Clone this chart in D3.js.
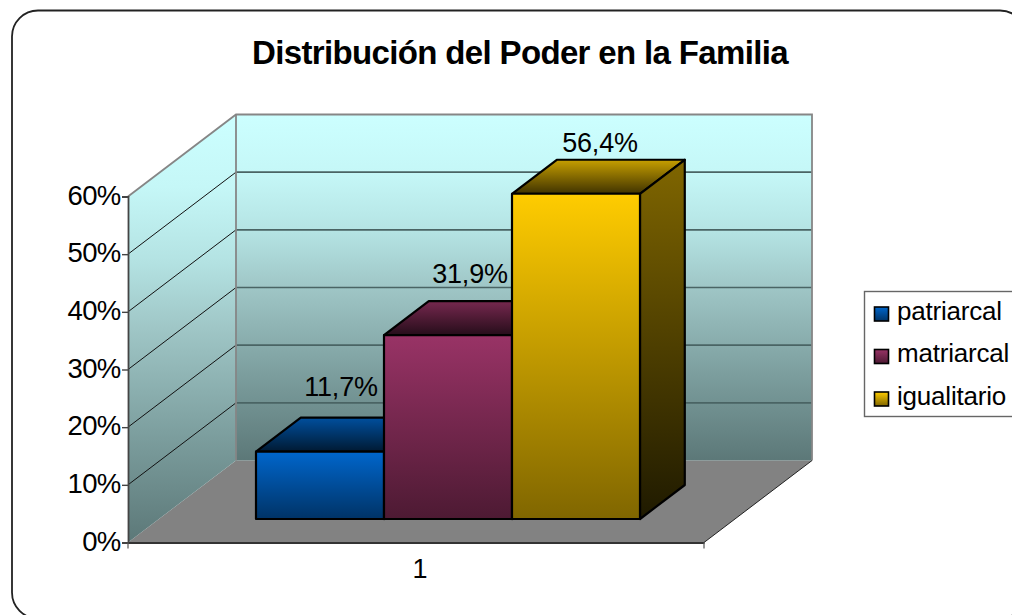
<!DOCTYPE html>
<html><head><meta charset="utf-8">
<script src="https://cdn.jsdelivr.net/npm/d3@7"></script>
<style>html,body{margin:0;padding:0;background:#fff;overflow:hidden}svg{display:block}text{font-family:"Liberation Sans",Arial,sans-serif;fill:#000}</style>
</head><body><svg id="c" width="1012" height="615"></svg>
<script>
const title = "Distribución del Poder en la Familia";
const categories = ["1"];
const seriesNames = ["patriarcal","matriarcal","igualitario"];
const seriesValues = [11.7,31.9,56.4];
const valueLabels = ["11,7%","31,9%","56,4%"];
const yTicks = [0,10,20,30,40,50,60];
const faceColors = [["#0066cc","#003366"],["#993366","#4d1a33"],["#ffcc00","#806600"]];
const topColors = [["#004f9e","#001a33"],["#77284f","#260d1a"],["#c79f00","#403300"]];
const sideColors = [["#004f9e","#001a33"],["#77284f","#260d1a"],["#806600","#1f1a00"]];
const wallStops = [[0,"#ccffff"],[0.17,"#c5f7f7"],[0.34,"#b4e3e3"],[0.5,"#9fc6c6"],[0.75,"#7c9e9e"],[1,"#5c7878"]];

(function(){
const svg = d3.select("#c"), defs = svg.append("defs");
function grad(id, a, b){
  const g = defs.append("linearGradient").attr("id",id).attr("x1",0).attr("y1",0).attr("x2",0).attr("y2",1);
  g.append("stop").attr("offset",0).attr("stop-color",a);
  g.append("stop").attr("offset",1).attr("stop-color",b);
  return `url(#${id})`;
}
function gradStops(id, stops){
  const g = defs.append("linearGradient").attr("id",id).attr("x1",0).attr("y1",0).attr("x2",0).attr("y2",1);
  stops.forEach(s=>g.append("stop").attr("offset",s[0]).attr("stop-color",s[1]));
  return `url(#${id})`;
}
const wallFill = gradStops("wall",wallStops);
const sideFill = gradStops("sidewall",wallStops);

// Chart-space scales; depth is projected as an oblique offset
const x0 = 128, y0 = 542.5, plotW = 576;
const depthX = 108, depthY = -82;
const dFront = 23.5/82, dBar = 34/82;
const ox = depthX*dFront;
const y = d3.scaleLinear().domain([0,60]).range([y0,196.5]);
const xCat = d3.scaleBand().domain(categories).range([x0,x0+plotW]);
const xSer = d3.scaleBand().domain(seriesNames).range([256-ox,256-ox+384]);
const proj = (px,py,d)=>[px+depthX*d, py+depthY*d];
const poly = pts => pts.map(p=>p.join(",")).join(" ");

// outer frame
svg.append("rect").attr("x",12).attr("y",10.5).attr("width",1014).attr("height",608).attr("rx",26)
  .attr("fill","#fff").attr("stroke","#222").attr("stroke-width",1.8);

const yTop = y(60);
// floor
svg.append("polygon").attr("points",poly([[x0,y0],proj(x0,y0,1),proj(x0+plotW,y0,1),[x0+plotW,y0]])).attr("fill","#828282");
// back wall
const bl = proj(x0,y0,1), tr = proj(x0+plotW,yTop,1);
svg.append("rect").attr("x",bl[0]).attr("y",tr[1]).attr("width",tr[0]-bl[0]).attr("height",bl[1]-tr[1]).attr("fill",wallFill);
// side wall
svg.append("polygon").attr("points",poly([[x0,y0],[x0,yTop],proj(x0,yTop,1),proj(x0,y0,1)])).attr("fill",sideFill);
// gridlines
yTicks.slice(1,-1).forEach(t=>{
  const a = proj(x0,y(t),1), b = proj(x0+plotW,y(t),1);
  svg.append("line").attr("x1",x0).attr("y1",y(t)).attr("x2",a[0]).attr("y2",a[1]).attr("stroke","#111").attr("stroke-width",1);
  svg.append("line").attr("x1",a[0]).attr("y1",a[1]).attr("x2",b[0]).attr("y2",b[1]).attr("stroke","#4a6464").attr("stroke-width",1.6);
});
// wall borders
const bTL = proj(x0,yTop,1), bTR = proj(x0+plotW,yTop,1), bBR = proj(x0+plotW,y0,1);
svg.append("path").attr("d",`M${x0},${yTop}L${bTL}L${bTR}L${bBR}`).attr("fill","none").attr("stroke","#868686").attr("stroke-width",1.8);
svg.append("line").attr("x1",bTL[0]).attr("y1",bTL[1]).attr("x2",bl[0]).attr("y2",bl[1]).attr("stroke","#868686").attr("stroke-width",1.8);
svg.append("line").attr("x1",x0+plotW).attr("y1",y0).attr("x2",bBR[0]).attr("y2",bBR[1]).attr("stroke","#222").attr("stroke-width",1);

// axes
const axY = d3.axisLeft(y).tickValues(yTicks).tickSize(6).tickFormat(d=>d+"%");
const gy = svg.append("g").attr("transform",`translate(${x0},0)`).call(axY);
gy.selectAll(".domain").attr("stroke","#444").attr("stroke-width",1.8);
gy.selectAll("line").attr("stroke","#444").attr("stroke-width",1.4);
gy.selectAll("text").attr("font-size",27.5).attr("letter-spacing",-0.7).attr("dy","0.28em").attr("x",-7.5);
const axX = d3.axisBottom(xCat).tickValues([]).tickSize(0);
const gx = svg.append("g").attr("transform",`translate(0,${y0})`).call(axX);
gx.selectAll(".domain").attr("stroke","#333").attr("stroke-width",1.8);
[x0,x0+plotW].forEach(v=>svg.append("line").attr("x1",v).attr("x2",v).attr("y1",y0).attr("y2",y0+6).attr("stroke","#555").attr("stroke-width",1.2));
svg.append("text").attr("x",xCat("1")+xCat.bandwidth()/2+4).attr("y",578).attr("text-anchor","middle").attr("font-size",27).text(categories[0]);

// bars
const hUnit = y(0)-y(1);
seriesNames.forEach((s,i)=>{
  const l = xSer(s), r = l+xSer.bandwidth(), v = seriesValues[i];
  const fb = proj(0,y(0),dFront)[1], ft = fb - v*hUnit;
  const P = (px,py,d)=>[px+ox+depthX*d, py+depthY*d];
  const id = "b"+i;
  const g = svg.append("g").attr("stroke","#000").attr("stroke-width",2.2).attr("stroke-linejoin","round");
  g.append("polygon").attr("points",poly([P(l,ft,0),P(l,ft,dBar),P(r,ft,dBar),P(r,ft,0)])).attr("fill",grad(id+"t",...topColors[i]));
  g.append("polygon").attr("points",poly([P(r,ft,0),P(r,ft,dBar),P(r,fb,dBar),P(r,fb,0)])).attr("fill",grad(id+"s",...sideColors[i]));
  g.append("rect").attr("x",l+ox).attr("y",ft).attr("width",r-l).attr("height",fb-ft).attr("fill",grad(id+"f",...faceColors[i]));
});
const labelNudgeY = [56,52,42], labelNudgeX = [21,22,24];
seriesNames.forEach((s,i)=>{
  const cx = xSer(s)+xSer.bandwidth()/2+ox+labelNudgeX[i];
  svg.append("text").attr("x",cx).attr("y",y0-23.5-seriesValues[i]*hUnit-labelNudgeY[i])
    .attr("text-anchor","middle").attr("font-size",27).attr("letter-spacing",-0.2).text(valueLabels[i]);
});

// title
svg.append("text").attr("x",520).attr("y",63.5).attr("text-anchor","middle").attr("font-size",33).attr("font-weight","bold").attr("letter-spacing",-0.65).text(title);

// legend
const lg = svg.append("g");
lg.append("rect").attr("x",864.5).attr("y",291.5).attr("width",160).attr("height",125).attr("fill","#fff").attr("stroke","#666").attr("stroke-width",1.4);
const ly = d3.scalePoint().domain(seriesNames).range([314,399]);
seriesNames.forEach((s,i)=>{
  lg.append("rect").attr("x",874.5).attr("y",ly(s)-7).attr("width",14).attr("height",14)
    .attr("fill",grad("k"+i,...faceColors[i])).attr("stroke","#000").attr("stroke-width",1.6);
  lg.append("text").attr("x",897).attr("y",ly(s)+5.5).attr("font-size",26).attr("letter-spacing",-0.2).text(s);
});
})();
</script></body></html>
